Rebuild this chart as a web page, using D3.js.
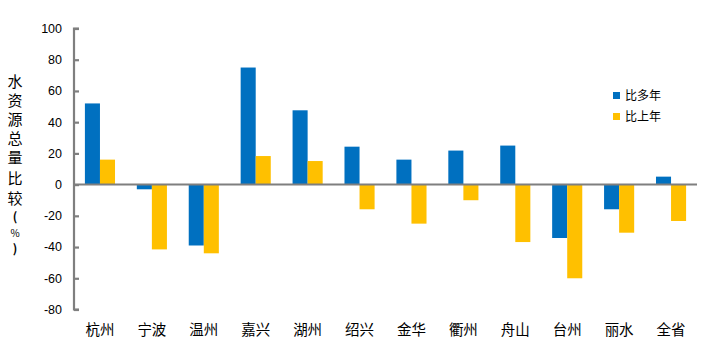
<!DOCTYPE html>
<html><head><meta charset="utf-8">
<script src="https://cdn.jsdelivr.net/npm/d3@7"></script>
<style>body{margin:0;background:#fff}svg{display:block}</style>
</head><body>
<script>
const categories = ["杭州","宁波","温州","嘉兴","湖州","绍兴","金华","衢州","舟山","台州","丽水","全省"];
const seriesNames = ["比多年","比上年"];
const vsMultiYear = [52,-3,-39,75,47.6,24.3,16,21.8,25,-34.2,-15.8,5.1];
const vsLastYear = [16,-41.5,-44,18.3,15.1,-15.8,-25,-10,-36.8,-60,-30.8,-23.3];
const yTicks = [100,80,60,40,20,0,-20,-40,-60,-80];
const colors = ["#0070C0","#FFC000"];

const W=707,H=355;
const svg=d3.select("body").append("svg").attr("width",W).attr("height",H);
const x0=74, x1=697;
const y=d3.scaleLinear().domain([-80,100]).range([309.5,28.5]);
const x=d3.scaleBand().domain(categories).range([x0,x1]).paddingInner(0.42).paddingOuter(0.21);
const xs=d3.scaleBand().domain([0,1]).range([0,x.bandwidth()]);

const data=[vsMultiYear,vsLastYear];
data.forEach((vals,si)=>{
  svg.append("g").selectAll("rect").data(vals).join("rect")
    .attr("x",(d,i)=>x(categories[i])+xs(si))
    .attr("width",xs.bandwidth())
    .attr("y",d=>y(Math.max(0,d)))
    .attr("height",d=>Math.abs(y(d)-y(0)))
    .attr("fill",colors[si]);
});

// y axis
const ax=d3.axisRight(y).tickValues(yTicks).tickSize(5).tickFormat("");
const g=svg.append("g").attr("transform",`translate(${x0},0)`).call(ax);
g.select(".domain").attr("stroke","#7f7f7f").attr("stroke-width",2.2).attr("d",`M5,${y(-80)}H0V${y(100)}H5`);
g.selectAll(".tick line").attr("stroke","#7f7f7f").attr("stroke-width",2.2);
svg.append("g").selectAll("text").data(yTicks).join("text")
  .attr("x",62).attr("y",d=>y(d)).attr("dy","0.35em").attr("text-anchor","end")
  .attr("font-family","Liberation Sans, Arial, sans-serif").attr("font-size",12.5).attr("fill","#000")
  .text(d=>d);
// zero line
svg.append("line").attr("x1",x0).attr("x2",x1).attr("y1",y(0)).attr("y2",y(0))
  .attr("stroke","#7f7f7f").attr("stroke-width",2);

// x labels
svg.append("g").selectAll("text").data(categories).join("text")
  .attr("x",d=>x(d)+x.bandwidth()/2).attr("y",335).attr("text-anchor","middle")
  .attr("font-family","Noto Sans CJK SC").attr("font-size",14.5).attr("fill","#000")
  .text(d=>d);

// y title vertical
const titleChars=["水","资","源","总","量","比","较","(","%",")"];
const ty=[82,101,120,139,158,179,199,217,233,249];
svg.append("g").selectAll("text").data(titleChars).join("text")
  .attr("x",15).attr("y",(d,i)=>ty[i]).attr("dy","0.35em").attr("text-anchor","middle")
  .attr("font-family","Noto Sans CJK SC").attr("font-weight",d=>/[()]/.test(d)?"bold":"normal")
  .attr("font-size",d=>d==="%"?10:(/[()]/.test(d)?12:15)).attr("fill","#000")
  .text(d=>d);

// legend
const lg=svg.append("g");
seriesNames.forEach((n,i)=>{
  lg.append("rect").attr("x",613).attr("y",92+i*21).attr("width",7).attr("height",7).attr("fill",colors[i]);
  lg.append("text").attr("x",625).attr("y",95.5+i*21).attr("dy","0.35em")
    .attr("font-family","Noto Sans CJK SC").attr("font-size",12).attr("fill","#000").text(n);
});
</script>
</body></html>
